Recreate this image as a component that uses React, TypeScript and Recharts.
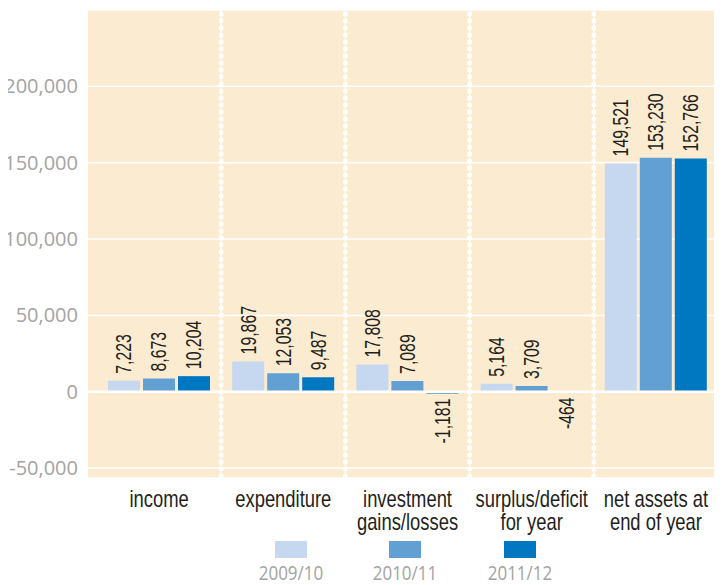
import {
  BarChart,
  Bar,
  XAxis,
  YAxis,
  CartesianGrid,
  ReferenceLine,
  LabelList,
} from "recharts";

const categories = [
  "income",
  "expenditure",
  "investment\ngains/losses",
  "surplus/deficit\nfor year",
  "net assets at\nend of year",
];
const series2009 = [7223, 19867, 17808, 5164, 149521];
const series2010 = [8673, 12053, 7089, 3709, 153230];
const series2011 = [10204, 9487, -1181, -464, 152766];
const seriesNames = ["2009/10", "2010/11", "2011/12"];
const seriesColors = ["#c5d8ef", "#629fd3", "#0077c1"];
const yTicks = [-50000, 0, 50000, 100000, 150000, 200000];

const data = categories.map((name, i) => ({
  name,
  y2009: series2009[i],
  y2010: series2010[i],
  y2011: series2011[i],
}));
const keys = ["y2009", "y2010", "y2011"];

// no condensed font available, so squeeze Liberation Sans along the text direction
const NARROW = "'Liberation Sans', Arial, sans-serif";
const GRAY_FONT = "'Open Sans', 'Noto Sans', sans-serif";

function fmt(v: number) {
  return v.toLocaleString("en-US");
}

function ValueLabel(props: any) {
  const { x, y, width, height, value } = props;
  const top = Math.min(y, y + height);
  const bottom = Math.max(y, y + height);
  const cx = x + width / 2;
  const neg = value < 0;
  const ay = neg ? bottom + 5 : top - 7;
  return (
    <text
      x={0}
      y={0}
      transform={`translate(${cx},${ay}) rotate(-90) scale(0.72,1)`}
      textAnchor={neg ? "end" : "start"}
      dominantBaseline="central"
      fontFamily={NARROW}
      fontSize={22}
      fill="#231f20"
    >
      {fmt(value)}
    </text>
  );
}

function CategoryTick(props: any) {
  const { x, y, payload } = props;
  const lines = String(payload.value).split("\n");
  return (
    <text
      x={0}
      y={0}
      transform={`translate(${x},${y}) scale(0.8,1)`}
      textAnchor="middle"
      fontFamily={NARROW}
      fontSize={23}
      fill="#231f20"
    >
      {lines.map((l, i) => (
        <tspan key={i} x={0} dy={i === 0 ? 21 : 23}>
          {l}
        </tspan>
      ))}
    </text>
  );
}

export default function App() {
  return (
    <div
      style={{
        position: "relative",
        width: 722,
        height: 577,
        marginLeft: -8,
        overflow: "hidden",
      }}
    >
      <BarChart
        width={722}
        height={530}
        data={data}
        margin={{ top: 2, right: 0, bottom: 0, left: 0 }}
        barGap={3}
        barSize={32}
      >
        <CartesianGrid
          vertical={false}
          fill="#fbebd0"
          stroke="#ffffff"
          strokeWidth={1.5}
        />
        <XAxis
          dataKey="name"
          axisLine={false}
          tickLine={false}
          height={60}
          padding={{ left: 9, right: 4 }}
          interval={0}
          tick={<CategoryTick />}
        />
        <YAxis
          width={88}
          domain={[-56500, 250000]}
          ticks={yTicks}
          allowDataOverflow
          axisLine={false}
          tickLine={false}
          tickFormatter={fmt}
          tickMargin={4}
          tick={{ fill: "#a3a3a3", fontSize: 20, fontFamily: GRAY_FONT }}
        />
        <ReferenceLine y={0} stroke="#ffffff" strokeWidth={2.5} />
        {categories.slice(1).map((c) => (
          <ReferenceLine
            key={c + "-line"}
            x={c}
            position="start"
            stroke="#ffffff"
            strokeWidth={1.5}
          />
        ))}
        {categories.slice(1).map((c) => (
          <ReferenceLine
            key={c + "-dots"}
            x={c}
            position="start"
            stroke="#ffffff"
            strokeWidth={4.5}
            strokeDasharray="4 3"
          />
        ))}
        {keys.map((k, i) => (
          <Bar
            key={k}
            dataKey={k}
            name={seriesNames[i]}
            fill={seriesColors[i]}
            isAnimationActive={false}
          >
            <LabelList dataKey={k} content={<ValueLabel />} />
          </Bar>
        ))}
      </BarChart>
      <div
        style={{
          position: "absolute",
          left: 88,
          top: 533,
          width: 634,
          display: "flex",
          justifyContent: "center",
        }}
      >
        {seriesNames.map((n, i) => (
          <div
            key={n}
            style={{
              width: 114.5,
              display: "flex",
              flexDirection: "column",
              alignItems: "center",
            }}
          >
            <div style={{ width: 32, height: 17, background: seriesColors[i] }} />
            <div
              style={{
                fontFamily: GRAY_FONT,
                fontSize: 20,
                color: "#a3a3a3",
                lineHeight: "20px",
                marginTop: 5,
                transform: "scaleX(0.85)",
              }}
            >
              {n}
            </div>
          </div>
        ))}
      </div>
    </div>
  );
}
